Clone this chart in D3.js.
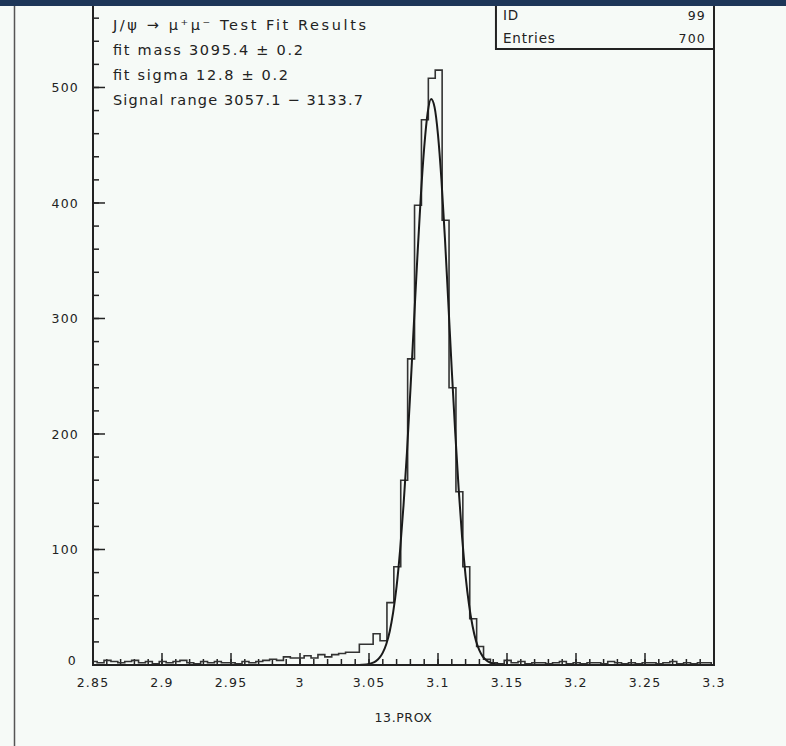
<!DOCTYPE html>
<html>
<head>
<meta charset="utf-8">
<script src="https://cdn.jsdelivr.net/npm/d3@7"></script>
<style>
  body { margin: 0; background: #f6faf7; }
  svg { display: block; }
  text { font-family: "DejaVu Sans", "Liberation Sans", sans-serif; fill: #222; }
</style>
</head>
<body>
<div id="wrapper"></div>
<script>
// histogram: 90 bins of 0.005 GeV
const xMin = 2.848
const binWidth = 0.005
const counts = [
  3, 2, 4, 3, 2, 3, 4, 2, 3, 1,
  3, 2, 3, 4, 2, 1, 3, 2, 3, 2,
  2, 1, 3, 2, 3, 4, 5, 4, 7, 6,
  6, 8, 6, 9, 7, 9, 10, 11, 11, 18,
  18, 27, 21, 54, 85, 160, 265, 398, 472, 508,
  515, 385, 240, 150, 85, 40, 16, 5, 2, 1,
  4, 2, 3, 1, 2, 2, 1, 2, 3, 1,
  2, 1, 2, 2, 1, 3, 2, 1, 2, 1,
  2, 2, 1, 2, 3, 1, 2, 1, 2, 2
]

// fitted curve
const fitX = [3.040, 3.045, 3.050, 3.0525, 3.055, 3.0575, 3.060, 3.0625, 3.065, 3.0675,
  3.070, 3.0725, 3.075, 3.0775, 3.080, 3.0825, 3.085, 3.0875, 3.090, 3.0925,
  3.095, 3.0975, 3.100, 3.1025, 3.105, 3.1075, 3.110, 3.1125, 3.115, 3.1175,
  3.120, 3.1225, 3.125, 3.1275, 3.130, 3.1325, 3.135, 3.1375, 3.140, 3.145, 3.150]
const fitY = [0, 0.2, 0.9, 1.8, 3.4, 6.1, 10.7, 18, 29, 45.5,
  68, 99, 138, 184, 238, 295, 352, 405, 448, 478,
  490, 483, 459, 420, 370, 313, 255, 201, 152, 110,
  77, 52, 34, 21, 12.7, 7.3, 4.1, 2.2, 1.1, 0.3, 0]

const xTicks = [2.85, 2.9, 2.95, 3, 3.05, 3.1, 3.15, 3.2, 3.25, 3.3]
const yTicks = [0, 100, 200, 300, 400, 500]
const infoLines = [
  "J/\u03c8 \u2192 \u03bc\u207a\u03bc\u207b  Test Fit Results",
  "fit mass 3095.4 \u00b1 0.2",
  "fit sigma 12.8 \u00b1 0.2",
  "Signal range 3057.1 \u2212 3133.7",
]
const statLabels = ["ID", "Entries"]
const statValues = ["99", "700"]
const xTitle = "13.PROX"

const dimensions = {
  width: 786,
  height: 746,
  margin: { top: 2, right: 72, bottom: 81, left: 93 },
}
dimensions.boundedWidth = dimensions.width - dimensions.margin.left - dimensions.margin.right
dimensions.boundedHeight = dimensions.height - dimensions.margin.top - dimensions.margin.bottom

const wrapper = d3.select("#wrapper")
  .append("svg")
  .attr("width", dimensions.width)
  .attr("height", dimensions.height)

const bounds = wrapper.append("g")
  .attr("transform", `translate(${dimensions.margin.left},${dimensions.margin.top})`)

const xScale = d3.scaleLinear()
  .domain([2.85, 3.3])
  .range([0, dimensions.boundedWidth])

const yScale = d3.scaleLinear()
  .domain([0, 574])
  .range([dimensions.boundedHeight, 0])

// minor ticks
const xMinor = d3.range(0, 46).map(i => 2.85 + i * 0.01)
const yMinor = d3.range(0, 29).map(i => i * 20)

bounds.selectAll(".x-minor")
  .data(xMinor)
  .enter().append("line")
  .attr("x1", d => xScale(d)).attr("x2", d => xScale(d))
  .attr("y1", dimensions.boundedHeight).attr("y2", dimensions.boundedHeight - 6)
  .attr("stroke", "#222").attr("stroke-width", 1.5)

bounds.selectAll(".x-major")
  .data(xTicks)
  .enter().append("line")
  .attr("x1", d => xScale(d)).attr("x2", d => xScale(d))
  .attr("y1", dimensions.boundedHeight).attr("y2", dimensions.boundedHeight - 12)
  .attr("stroke", "#222").attr("stroke-width", 1.5)

bounds.selectAll(".y-minor")
  .data(yMinor)
  .enter().append("line")
  .attr("y1", d => yScale(d)).attr("y2", d => yScale(d))
  .attr("x1", 0).attr("x2", 6)
  .attr("stroke", "#222").attr("stroke-width", 1.5)

bounds.selectAll(".y-major")
  .data(yTicks)
  .enter().append("line")
  .attr("y1", d => yScale(d)).attr("y2", d => yScale(d))
  .attr("x1", 0).attr("x2", 12)
  .attr("stroke", "#222").attr("stroke-width", 1.5)

// histogram outline
const histPoints = [[xMin, 0]]
counts.forEach((c, i) => histPoints.push([xMin + i * binWidth, c]))
histPoints.push([xMin + counts.length * binWidth, counts[counts.length - 1]])
histPoints.push([xMin + counts.length * binWidth, 0])

const histLine = d3.line()
  .x(d => Math.max(0, xScale(d[0])))
  .y(d => yScale(d[1]))
  .curve(d3.curveStepAfter)

bounds.append("path")
  .attr("d", histLine(histPoints))
  .attr("fill", "none")
  .attr("stroke", "#333")
  .attr("stroke-width", 1.6)

// fit curve
const fitLine = d3.line()
  .x((d, i) => xScale(fitX[i]))
  .y(d => yScale(d))
  .curve(d3.curveMonotoneX)

bounds.append("path")
  .attr("d", fitLine(fitY))
  .attr("fill", "none")
  .attr("stroke", "#1a1a1a")
  .attr("stroke-width", 2)

// frame
bounds.append("rect")
  .attr("x", 0).attr("y", 0)
  .attr("width", dimensions.boundedWidth)
  .attr("height", dimensions.boundedHeight)
  .attr("fill", "none")
  .attr("stroke", "#222")
  .attr("stroke-width", 2)

// tick labels
bounds.selectAll(".x-label")
  .data(xTicks)
  .enter().append("text")
  .attr("x", d => xScale(d))
  .attr("y", dimensions.boundedHeight + 22)
  .attr("text-anchor", "middle")
  .style("font-size", "12.5px")
  .style("letter-spacing", "1.2px")
  .text(d => d)

bounds.selectAll(".y-label")
  .data(yTicks)
  .enter().append("text")
  .attr("x", d => d == 0 ? -16 : -14)
  .attr("y", d => yScale(d) + (d == 0 ? 0 : 5))
  .attr("text-anchor", "end")
  .style("font-size", "12.5px")
  .style("letter-spacing", "1.2px")
  .text(d => d)

bounds.append("text")
  .attr("x", xScale(3.075))
  .attr("y", dimensions.boundedHeight + 57)
  .attr("text-anchor", "middle")
  .style("font-size", "12.5px")
  .style("letter-spacing", "0.6px")
  .text(xTitle)

// fit info text
const infoWidths = [253, 190, 175, 250]
bounds.selectAll(".info")
  .data(infoLines)
  .enter().append("text")
  .attr("x", 20)
  .attr("y", (d, i) => 28 + i * 25)
  .attr("textLength", (d, i) => infoWidths[i])
  .attr("lengthAdjust", "spacing")
  .style("font-size", "14.5px")
  .text(d => d)

// stat box
const boxLeft = xScale(3.142)
const statW = dimensions.boundedWidth - boxLeft
const statBox = bounds.append("g")
  .attr("transform", `translate(${boxLeft},0)`)

statBox.append("rect")
  .attr("x", 0).attr("y", 0)
  .attr("width", statW).attr("height", 47)
  .attr("fill", "#f6faf7")
  .attr("stroke", "#222")
  .attr("stroke-width", 2)

statBox.selectAll(".stat-label")
  .data(statLabels)
  .enter().append("text")
  .attr("x", 7)
  .attr("y", (d, i) => 18 + i * 23)
  .style("font-size", "13.5px")
  .style("letter-spacing", "0.8px")
  .text(d => d)

statBox.selectAll(".stat-value")
  .data(statValues)
  .enter().append("text")
  .attr("x", statW - 8)
  .attr("y", (d, i) => 18 + i * 23)
  .attr("text-anchor", "end")
  .style("font-size", "12.5px")
  .style("letter-spacing", "1.2px")
  .text(d => d)

// window chrome: top bar and left rule
wrapper.append("rect")
  .attr("x", 0).attr("y", 0)
  .attr("width", dimensions.width).attr("height", 6)
  .attr("fill", "#1d3658")

wrapper.append("line")
  .attr("x1", 14.5).attr("x2", 14.5)
  .attr("y1", 6).attr("y2", dimensions.height)
  .attr("stroke", "#555")
  .attr("stroke-width", 1.5)
</script>
</body>
</html>
